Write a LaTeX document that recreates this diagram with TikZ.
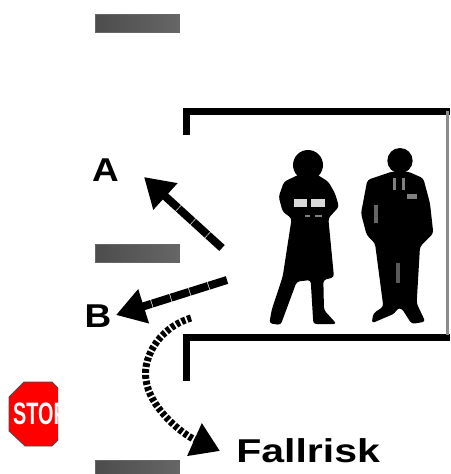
\documentclass[tikz,border=0pt]{standalone}
\usepackage{fontspec}
\setmainfont{Liberation Sans}
\usetikzlibrary{arrows.meta}
\tikzset{
    fall diagram/.style = {x=1pt, y=-1pt},
    wall/.style         = {line width=7pt, miter limit=10},
    sidewall/.style     = {line width=3pt, draw=black!45},
    bar/.style          = {draw=black!60, line width=1pt, left color=black!70,
                           right color=black!60, minimum width=84pt,
                           minimum height=18pt, inner sep=0pt},
    lbl/.style          = {font=\bfseries\fontsize{33}{33}\selectfont, inner sep=0pt,
                           xscale=1.12},
    move/.style         = {line width=8pt, dash pattern=on 19pt off 0.8pt,
                           -{Triangle[length=29pt, width=34pt]}},
    fall/.style         = {line width=7pt, dash pattern=on 4pt off 2pt,
                           -{Triangle[length=28pt, width=34pt]}},
    person/.style       = {fill=black, rounded corners=3pt}
}
\begin{document}
\begin{tikzpicture}[fall diagram]
\clip (0,0) rectangle (450,474);

% Ledges
\node[bar] (bartop) at (137.5,23.5) {};
\node[bar] (barmid) at (137.5,253) {};
\node[bar] (barlow) at (137.5,469) {};

% Room outline
\draw[wall] (186,135) -- (186,111) -- (450,111);
\draw[wall] (186,381) -- (186,337) -- (450,337);
\draw[sidewall] (447,111) -- (447,335);

% Labels
\node[lbl] (A) at (105.5,170) {A};
\node[lbl] (B) at (98,316) {B};
\node[lbl, anchor=west, xscale=1.11] (risk) at (236,451) {Fallrisk};

% Arrow ends
\coordinate (startA) at (222,248);
\coordinate (tipA) at (144,177);
\coordinate (startB) at (227,280);
\coordinate (tipB) at (116,315);
\coordinate (startF) at (191,318);
\coordinate (tipF) at (220,451);

\draw[move] (startA) -- (tipA);
\draw[move] (startB) -- (tipB);
\draw[fall] (startF) .. controls (158,328) and (140,360) .. (147,385)
    .. controls (153,410) and (182,434) .. (tipF);

% Woman
\fill (308,165) circle (15);
\begin{scope}[shift={(260,140)}, scale=1/3]
    \fill[person] (125,100) -- (165,100) -- (205,125) -- (225,160) -- (237,200)
        -- (205,235) -- (222,412) -- (190,420) -- (192,510) -- (230,552)
        -- (160,552) -- (152,420) -- (110,425) -- (62,555) -- (28,550) -- (35,510)
        -- (68,410) -- (95,235) -- (68,215) -- (56,170) -- (72,125) -- cycle;
    \fill[black!15] (102,177) rectangle (140,202);
    \fill[black!15] (152,177) rectangle (196,202);
    \fill[black!50] (135,224) rectangle (150,232);
    \fill[black!50] (165,224) rectangle (185,232);
    % Man
    \fill (420,62) circle (38);
    \fill[person] (395,95) -- (445,95) -- (490,115) -- (510,190) -- (520,280)
        -- (480,320) -- (470,490) -- (496,545) -- (455,552) -- (425,505)
        -- (412,505) -- (405,520) -- (335,550) -- (340,520) -- (370,500)
        -- (345,310) -- (320,285) -- (303,220) -- (322,120) -- cycle;
    \fill[black!60] (343,195) rectangle (354,250);
    \fill[black!50] (398,115) rectangle (408,150);
    \fill[black!50] (426,115) rectangle (436,150);
    \fill[black!50] (440,163) rectangle (472,176);
    \fill[black!65] (408,370) rectangle (420,430);
\end{scope}

% Stop sign
\begin{scope}
    \clip (0,370) rectangle (58,460);
    \fill[red, draw=black!70, line width=0.8pt] (24,382) -- (52,382) -- (67,397) -- (67,431)
        -- (52,446) -- (25,446) -- (9,431) -- (9,397) -- cycle;
    \node[anchor=west, text=white, inner sep=0pt, xscale=0.64,
          font=\bfseries\fontsize{31}{31}\selectfont] (stop) at (13,414) {STOP};
\end{scope}
\end{tikzpicture}
\end{document}
